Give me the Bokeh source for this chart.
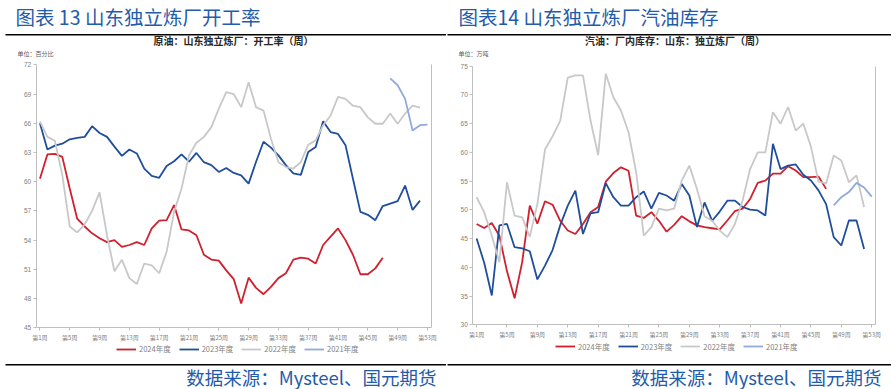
from bokeh.plotting import figure
from bokeh.models import Range1d, FixedTicker, Legend, LegendItem, LinearAxis, Label, BoxAnnotation
from bokeh.layouts import row
from bokeh.embed import file_html
from bokeh.resources import INLINE

# ---------------- data ----------------
week_labels = {w: f"第{w}周" for w in range(1, 54, 4)}
series_names = ["2024年度", "2023年度", "2022年度", "2021年度"]

# 山东独立炼厂开工率 (%)
rate_2024 = [60.3, 62.8, 62.85, 62.55, 59.3, 56.2, 55.4, 54.7, 54.2, 53.8, 54.0, 53.3, 53.5, 53.8, 53.5,
             55.2, 56.0, 56.05, 57.6, 55.1, 55.0, 54.5, 52.5, 52.0, 51.9, 50.9, 50.0, 47.5, 50.15, 49.1,
             48.45, 49.2, 50.1, 50.6, 52.0, 52.2, 52.1, 51.6, 53.5, 54.35, 55.2, 54.0, 52.5, 50.5, 50.5,
             51.1, 52.2]
rate_2023 = [66.0, 63.3, 63.7, 63.9, 64.35, 64.5, 64.6, 65.7, 65.0, 64.6, 63.6, 62.65, 63.3, 62.9, 61.35,
             60.6, 60.4, 61.6, 62.1, 62.8, 62.05, 62.95, 62.0, 61.7, 61.0, 61.4, 60.9, 60.65, 59.8, 62.05,
             64.1, 63.5, 62.7, 61.7, 60.85, 60.7, 63.05, 63.55, 66.2, 65.1, 64.9, 63.75, 60.3, 56.9, 56.6,
             56.05, 57.5, 57.75, 58.0, 59.6, 57.1, 58.05]
rate_2022 = [66.2, 64.6, 64.2, 60.7, 55.4, 54.8, 55.6, 57.0, 58.9, 54.5, 50.8, 52.0, 50.1, 49.5, 51.6,
             51.4, 50.6, 52.8, 56.9, 59.3, 62.7, 64.0, 64.6, 65.6, 67.5, 69.2, 69.0, 67.65, 70.2, 67.65,
             67.3, 64.4, 62.0, 61.5, 61.35, 62.0, 63.8, 64.25, 65.8, 66.8, 68.7, 68.5, 67.8, 67.65, 66.6,
             65.95, 65.95, 67.0, 65.95, 67.0, 67.8, 67.6]
rate_2021_start = 48
rate_2021 = [70.6, 69.9, 68.5, 65.25, 65.8, 65.85]

# 山东独立炼厂汽油库存 (万吨)
inv_2024 = [47.55, 46.85, 47.7, 45.5, 39.3, 34.6, 40.9, 50.75, 47.6, 51.5, 50.9, 48.1, 46.4, 45.8, 47.55,
            49.6, 50.5, 54.9, 56.4, 57.4, 56.8, 49.0, 48.6, 49.6, 48.1, 46.2, 47.4, 48.9, 48.0, 47.3,
            47.0, 46.8, 46.6, 48.15, 49.8, 50.2, 51.9, 54.7, 55.1, 56.3, 56.3, 57.6, 56.85, 55.7, 55.7,
            55.8, 53.65]
inv_2023 = [45.0, 40.8, 35.1, 47.3, 47.55, 43.5, 43.3, 42.8, 37.9, 40.3, 43.0, 47.3, 50.75, 53.35, 45.8,
            49.4, 49.6, 54.65, 52.2, 50.75, 50.75, 52.2, 53.2, 50.2, 52.95, 52.5, 51.6, 54.5, 52.5, 47.0,
            51.3, 48.1, 49.7, 51.6, 51.6, 50.5, 50.05, 49.9, 49.0, 61.5, 57.1, 57.7, 57.9, 56.1, 55.1,
            53.4, 51.0, 45.25, 43.8, 48.15, 48.15, 43.2]
inv_2022 = [52.2, 49.6, 45.5, 40.9, 54.8, 49.0, 48.7, 45.3, 51.0, 60.5, 62.8, 65.5, 73.0, 73.4, 73.4,
            65.5, 59.5, 73.7, 69.6, 67.3, 63.5, 56.55, 45.5, 47.0, 50.2, 49.9, 50.2, 55.1, 57.7, 53.65,
            48.9, 48.1, 46.4, 45.25, 47.55, 51.6, 57.1, 60.0, 60.0, 67.0, 65.0, 67.9, 63.8, 65.0, 61.0,
            54.9, 54.6, 59.45, 58.6, 54.8, 56.0, 50.5]
inv_2021_start = 48
inv_2021 = [50.8, 52.2, 53.1, 54.7, 53.9, 52.3]

rate_ticks = [45, 48, 51, 54, 57, 60, 63, 66, 69, 72]
inv_ticks = [30, 35, 40, 45, 50, 55, 60, 65, 70, 75]

colors = ["#D0202E", "#1F4E9A", "#C8C8C8", "#8FAADC"]
CJK = "Noto Sans CJK SC"
HEAD_BLUE = "#1F5CAB"
H = 389
X_FIRST, X_LAST = 0.5, 53.5


def weeks_for(vals, start=1):
    return list(range(start, start + len(vals)))


def make_panel(width, frame_px, ymin, ymax, yticks, data, starts, deco):
    # frame_px: (left, right, top, bottom) pixel edges of the axes box inside this figure
    fl, fr, ft, fb = frame_px
    xs = (X_LAST - X_FIRST) / (fr - fl)
    ys = (ymax - ymin) / (fb - ft)
    xr = Range1d(X_FIRST - fl * xs, X_LAST + (width - fr) * xs)
    yr = Range1d(ymin - (H - fb) * ys, ymax + ft * ys)

    p = figure(width=width, height=H, x_range=xr, y_range=yr, output_backend="svg", toolbar_location=None,
               min_border_left=0, min_border_right=0, min_border_top=0, min_border_bottom=0)
    p.xgrid.visible = False
    p.ygrid.visible = False
    p.outline_line_color = None
    p.background_fill_color = "white"
    p.border_fill_color = "white"

    xa = p.xaxis[0]
    xa.fixed_location = ymin
    xa.bounds = (X_FIRST, X_LAST)
    xa.ticker = FixedTicker(ticks=list(week_labels.keys()))
    xa.major_label_overrides = week_labels
    xa.axis_line_color = "#BFBFBF"
    xa.major_tick_line_color = "#BFBFBF"
    xa.major_tick_out = 3
    xa.major_tick_in = 0
    xa.minor_tick_line_color = None
    xa.major_label_text_font = CJK
    xa.major_label_text_font_size = "6px"
    xa.major_label_text_color = "#808080"
    xa.major_label_standoff = 2

    ya = p.yaxis[0]
    ya.fixed_location = X_FIRST
    ya.bounds = (ymin, ymax)
    ya.ticker = FixedTicker(ticks=yticks)
    ya.axis_line_color = "#BFBFBF"
    ya.major_tick_line_color = "#BFBFBF"
    ya.major_tick_out = 3
    ya.major_tick_in = 0
    ya.minor_tick_line_color = None
    ya.major_label_text_font = "Liberation Sans"
    ya.major_label_text_font_size = "6.5px"
    ya.major_label_text_color = "#808080"
    ya.major_label_standoff = 2

    ra = LinearAxis(fixed_location=X_LAST, bounds=(ymin, ymax), ticker=FixedTicker(ticks=[]),
                    axis_line_color="#BFBFBF", major_tick_line_color=None, minor_tick_line_color=None,
                    major_label_text_font_size="0px")
    p.add_layout(ra, "right")

    renderers = []
    for vals, st, col in zip(data, starts, colors):
        renderers.append(p.line(weeks_for(vals, st), vals, line_color=col, line_width=1.8))

    leg = Legend(items=[LegendItem(label=n, renderers=[r]) for n, r in zip(series_names, renderers)],
                 orientation="horizontal", location=deco["legend"],
                 glyph_width=20, glyph_height=10, label_height=10, label_standoff=3, spacing=8,
                 padding=0, margin=0, border_line_color=None, background_fill_alpha=0,
                 label_text_font=CJK, label_text_font_size="7.5px", label_text_color="#7F7F7F")
    p.add_layout(leg)

    def lab(x, y_page, text, size, color, align="left", bold=False):
        p.add_layout(Label(x=x, y=H - y_page, x_units="screen", y_units="screen", text=text,
                           text_font=CJK, text_font_size=size, text_color=color,
                           text_align=align, text_baseline="middle",
                           text_font_style="bold" if bold else "normal"))

    lab(deco["head_x"], 16, deco["head"], "19.5px", HEAD_BLUE)
    lab(deco["sub_x"], 40.3, deco["sub"], "10px", "#262626", align="center", bold=True)
    lab(deco["unit_x"], 52.7, deco["unit"], "6px", "#595959")
    lab(deco["foot_x"], 376.7, "数据来源：Mysteel、国元期货", "18.5px", HEAD_BLUE, align="right")

    for y_page in (34.3, 364.3):
        p.add_layout(BoxAnnotation(left=deco["rule"][0], right=deco["rule"][1],
                                   bottom=H - y_page - 0.7, top=H - y_page + 0.7,
                                   left_units="screen", right_units="screen",
                                   top_units="screen", bottom_units="screen",
                                   fill_color="black", fill_alpha=1, line_color=None))
    return p


left = make_panel(446, (35.7, 430.7, 64.3, 327.3), 45, 72, rate_ticks,
                  [rate_2024, rate_2023, rate_2022, rate_2021], [1, 1, 1, rate_2021_start],
                  dict(legend=(116, H - 354.3), head="图表 13 山东独立炼厂开工率", head_x=15,
                       sub="原油：山东独立炼厂：开工率（周）", sub_x=233,
                       unit="单位：百分比", unit_x=17, foot_x=436, rule=(5, 446)))

right = make_panel(445, (26.3, 429.0, 65.7, 324.3), 30, 75, inv_ticks,
                   [inv_2024, inv_2023, inv_2022, inv_2021], [1, 1, 1, inv_2021_start],
                   dict(legend=(109, H - 351.7), head="图表14 山东独立炼厂汽油库存", head_x=12,
                        sub="汽油：厂内库存：山东：独立炼厂（周）", sub_x=228.5,
                        unit="单位：万吨", unit_x=12, foot_x=435, rule=(1, 445)))

layout = row(left, right)
open("out.html", "w").write(file_html(layout, INLINE))
